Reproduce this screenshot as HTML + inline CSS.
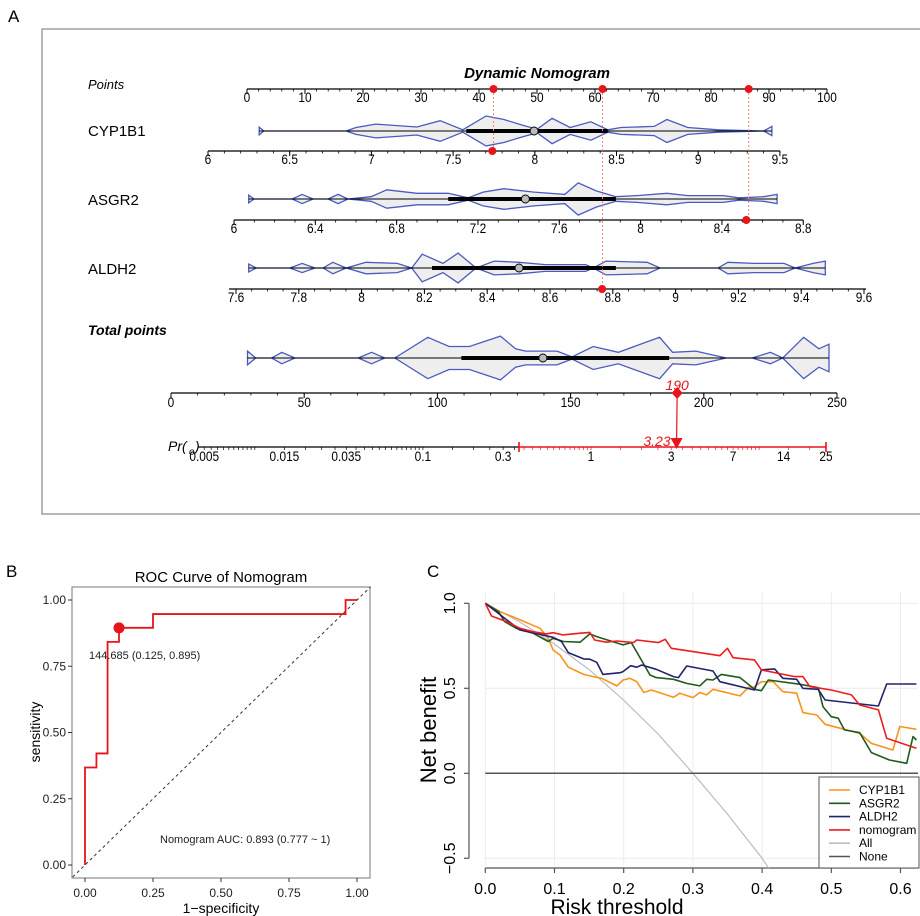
<!DOCTYPE html>
<html><head><meta charset="utf-8"><style>
html,body{margin:0;padding:0;background:#fff}
svg{display:block;font-family:"Liberation Sans",Arial,sans-serif}
</style></head><body>
<svg id="fig" width="920" height="916" viewBox="0 0 920 916" xmlns="http://www.w3.org/2000/svg">
<text x="8" y="22" font-size="17">A</text>
<text x="6" y="577" font-size="17">B</text>
<text x="427" y="577" font-size="17">C</text>
<rect x="42" y="29" width="882" height="485" fill="none" stroke="#888" stroke-width="1.2"/>
<g id="nomo"></g>
<g id="roc"></g>
<g id="dca"></g>
</svg>
<script>
// ---------- nomogram data ----------
const cypKnots=[[2.1,3.4],[2.9,0],[17.1,0],[18.8,3],[22.2,6],[29.3,3.5],[33.3,9],[37.2,1],[41.2,13],[44.3,10],[46.9,6],[50,1.5],[52.6,11],[55.7,3],[59.3,8],[62.2,1],[64.5,3],[70.2,4],[72.4,10],[76,3],[81.2,1],[89.1,0],[90.5,4]];
const asgKnots=[[0.3,3.4],[1.2,0],[7.8,0],[9.5,4],[11.4,0],[14,0],[15.7,4],[17.4,0],[21.4,2],[24.1,8],[29.3,5],[34.7,5],[38.1,1],[40.7,6],[44.3,9],[49.5,6],[54.8,4],[57.1,14],[60.2,7],[63.6,2],[67.2,3],[72.4,5],[76,3],[82.1,3],[84.8,1],[89.1,2],[91.4,4]];
const aldKnots=[[0.3,3.4],[1.6,0],[7.4,0],[9.5,4],[11.7,0],[13.1,0],[14.8,5],[17.1,0],[20.5,5],[25.9,4],[28.4,0],[30.2,12],[33.8,4],[36.4,13],[39.5,0],[42.6,6],[46.9,5],[51.4,3],[58.4,3],[59.7,0],[61.9,6],[69,5],[71.2,0],[81.2,0],[82.9,5],[87.4,4],[92.6,4],[94.5,0],[97.6,4],[99.7,6]];
const totKnots=[[28.7,6],[31.8,0],[37.8,0],[41.6,5],[46.5,0],[70.3,0],[75.3,5],[80.2,0],[84,0],[96.4,18],[104.4,10],[112,10],[123.7,19],[129.3,8],[133.1,6],[144.9,6],[150.5,1],[158.5,10],[167.9,5],[183.4,18],[188.3,5],[197,6],[208.4,0],[218.2,0],[225,5],[229.6,0],[237.5,18],[243.2,8],[247,12]];
const cypBox=[37.8,62.2,49.5], asgBox=[34.7,63.6,48], aldBox=[31.9,63.6,46.9], totBox=[109,187,139.6];
const pointsTicks=[0,10,20,30,40,50,60,70,80,90,100];
const cypTicks=[6,6.5,7,7.5,8,8.5,9,9.5];
const asgTicks=[6,6.4,6.8,7.2,7.6,8,8.4,8.8];
const aldTicks=[7.6,7.8,8,8.2,8.4,8.6,8.8,9,9.2,9.4,9.6];
const totTicks=[0,50,100,150,200,250];
const prTicks=[0.005,0.015,0.035,0.1,0.3,1,3,7,14,25];
const selPoints=[42.5,61.3,86.5];
const selValues={cyp:7.74,asg:8.52,ald:8.766};
const totalScore=190, predValue=3.23;

const NS="http://www.w3.org/2000/svg";
function mk(parent,tag,attrs){const e=document.createElementNS(NS,tag);for(const k in attrs)e.setAttribute(k,attrs[k]);parent.appendChild(e);return e;}
function txt(parent,x,y,s,attrs){const e=mk(parent,'text',Object.assign({x:x,y:y},attrs||{}));e.textContent=s;return e;}

const nomo=document.getElementById('nomo');
const ptsX=p=>247+p*5.8;
const cypX=v=>208+(v-6)*163.4;
const asgX=v=>234+(v-6)*203.3;
const aldX=v=>236+(v-7.6)*314;
const totX=p=>171+p*2.664;
const prX=v=>591+Math.log(v)*73;

function lbl(g,x,y,s,size){return txt(g,x,y,s,{'font-size':size,'text-anchor':'middle',transform:`translate(${x},${y}) scale(0.85,1) translate(${-x},${-y})`});}
function axis(name,x0,x1,y,ticks,scale,minorStep,minorFrom,minorTo,ly){
  const g=mk(nomo,'g',{});
  
  
  mk(g,'line',{x1:x0,x2:x1,y1:y,y2:y,stroke:'#000','stroke-width':1.2});
  const n=Math.round((minorTo-minorFrom)/minorStep);
  for(let i=0;i<=n;i++){const x=scale(minorFrom+i*minorStep);mk(g,'line',{x1:x,x2:x,y1:y,y2:y+2.5,stroke:'#000','stroke-width':0.8});}
  ticks.forEach(t=>{const x=scale(t);mk(g,'line',{x1:x,x2:x,y1:y,y2:y+5,stroke:'#000','stroke-width':1});
    lbl(g,x,ly,String(t),14);});
  return g;
}
txt(nomo,88,89,'Points',{'font-size':13,'font-style':'italic'});
txt(nomo,537,78,'Dynamic Nomogram',{'font-size':15,'font-weight':'bold','font-style':'italic','text-anchor':'middle'});
axis('points-axis',247,827,89,pointsTicks,ptsX,2,0,100,102);
txt(nomo,88,136,'CYP1B1',{'font-size':15});
axis('cyp1b1-axis',208,780,151,cypTicks,cypX,0.1,6,9.5,164);
txt(nomo,88,205,'ASGR2',{'font-size':15});
axis('asgr2-axis',234,803,220,asgTicks,asgX,0.1,6,8.8,233);
txt(nomo,88,274,'ALDH2',{'font-size':15});
axis('aldh2-axis',229,866,289,aldTicks,aldX,0.05,7.6,9.6,302);
txt(nomo,88,335,'Total points',{'font-size':14,'font-weight':'bold','font-style':'italic'});
axis('total-points-axis',171,837,393,totTicks,totX,10,0,250,407);

function violin(name,knots,box,scale,cy){
  const g=mk(nomo,'g',{});
  
  
  const s=1.15;
  const top=knots.map(k=>`${scale(k[0]).toFixed(1)},${(cy-k[1]*s).toFixed(1)}`);
  const bot=knots.slice().reverse().map(k=>`${scale(k[0]).toFixed(1)},${(cy+k[1]*s).toFixed(1)}`);
  mk(g,'polygon',{points:top.concat(bot).join(' '),fill:'#eeeeee',stroke:'#4a5bbf','stroke-width':1.3});
  mk(g,'line',{x1:scale(knots[0][0]),x2:scale(knots[knots.length-1][0]),y1:cy,y2:cy,stroke:'#000','stroke-width':1});
  mk(g,'line',{x1:scale(box[0]),x2:scale(box[1]),y1:cy,y2:cy,stroke:'#000','stroke-width':4});
  mk(g,'circle',{cx:scale(box[2]),cy:cy,r:4,fill:'#bbb',stroke:'#000','stroke-width':0.9});
}
violin('cyp1b1-violin',cypKnots,cypBox,ptsX,131);
violin('asgr2-violin',asgKnots,asgBox,ptsX,199);
violin('aldh2-violin',aldKnots,aldBox,ptsX,268);
violin('total-points-violin',totKnots,totBox,totX,358);

// selection markers
const selY=[151,289,220];
const selVX=[cypX(selValues.cyp),aldX(selValues.ald),asgX(selValues.asg)];
selPoints.forEach((p,i)=>{const x=ptsX(p);
  const l=mk(nomo,'line',{x1:x,x2:x,y1:89,y2:selY[i],stroke:'#f08080','stroke-width':1,'stroke-dasharray':'2,2'});
  
  const c=mk(nomo,'circle',{cx:x,cy:89,r:4,fill:'#e8141b'});
  
  const c2=mk(nomo,'circle',{cx:selVX[i],cy:selY[i],r:4,fill:'#e8141b'});
  
});

// Pr axis
const PY=447;
const pg=mk(nomo,'g',{});


txt(pg,168,451,'Pr(',{'font-size':14,'font-style':'italic'});
txt(pg,189,455,'o',{'font-size':10,'font-style':'italic'});
txt(pg,195,451,')',{'font-size':14,'font-style':'italic'});
const xr=519, xe=prX(25);
mk(pg,'line',{x1:198,x2:xr,y1:PY,y2:PY,stroke:'#000','stroke-width':1.2});
for(let d=-3;d<=1;d++){for(let k=1;k<10;k+=0.5){const v=k*Math.pow(10,d);if(v<0.005||v>25)continue;const x=prX(v);
  mk(pg,'line',{x1:x,x2:x,y1:PY,y2:PY+3,stroke:x>xr?'#e8141b':'#000','stroke-width':0.7});}}
prTicks.forEach(t=>{const x=prX(t);lbl(pg,x,461,String(t),14);});
mk(pg,'line',{x1:xr,x2:xe,y1:PY,y2:PY,stroke:'#e8141b','stroke-width':1.6});
mk(pg,'line',{x1:xr,x2:xr,y1:PY-5,y2:PY+5,stroke:'#e8141b','stroke-width':1.6});
mk(pg,'line',{x1:xe,x2:xe,y1:PY-5,y2:PY+5,stroke:'#e8141b','stroke-width':1.6});
const tx=totX(totalScore), px=prX(predValue);
const pl=mk(nomo,'line',{x1:tx,x2:px,y1:393,y2:440,stroke:'#e8141b','stroke-width':1.2});

const dm=mk(nomo,'polygon',{points:`${tx},387 ${tx+5.5},393 ${tx},399 ${tx-5.5},393`,fill:'#e8141b'});

const tri=mk(nomo,'polygon',{points:`${px-6},438 ${px+6},438 ${px},449`,fill:'#e8141b'});

txt(nomo,tx,390,String(totalScore),{'font-size':14,'font-style':'italic',fill:'#e8141b','text-anchor':'middle'});
txt(nomo,px-6,446,predValue.toFixed(2),{'font-size':14,'font-style':'italic',fill:'#e8141b','text-anchor':'end'});

// ---------- ROC ----------
const rocFpr=[0,0,0.042,0.042,0.083,0.083,0.125,0.125,0.25,0.25,0.958,0.958,1];
const rocTpr=[0,0.368,0.368,0.421,0.421,0.842,0.842,0.895,0.895,0.947,0.947,1,1];
const rocTicks=[0,0.25,0.5,0.75,1];
const rocTickLabels=['0.00','0.25','0.50','0.75','1.00'];
const cutFpr=0.125, cutTpr=0.895;
const roc=document.getElementById('roc');
const rx=v=>85+v*272, ry=v=>865-v*265;
txt(roc,221,582,'ROC Curve of Nomogram',{'font-size':15,'text-anchor':'middle'});
const rf=mk(roc,'rect',{x:72,y:587,width:298,height:291,fill:'none',stroke:'#777','stroke-width':1});

rocTicks.forEach((t,i)=>{
  mk(roc,'line',{x1:68,x2:72,y1:ry(t),y2:ry(t),stroke:'#333'});
  txt(roc,66,ry(t)+4,rocTickLabels[i],{'font-size':12,'text-anchor':'end','fill':'#222'});
  mk(roc,'line',{x1:rx(t),x2:rx(t),y1:878,y2:882,stroke:'#333'});
  txt(roc,rx(t),897,rocTickLabels[i],{'font-size':12,'text-anchor':'middle','fill':'#222'});
});
txt(roc,221,913,'1\u2212specificity',{'font-size':14,'text-anchor':'middle'});
txt(roc,40,732,'sensitivity',{'font-size':14,'text-anchor':'middle',transform:'rotate(-90 40 732)'});
const dg=mk(roc,'line',{x1:rx(-0.045),y1:ry(-0.045),x2:rx(1.05),y2:ry(1.05),stroke:'#333','stroke-width':1,'stroke-dasharray':'3,3'});

const rp=mk(roc,'polyline',{points:rocFpr.map((f,i)=>`${rx(f)},${ry(rocTpr[i])}`).join(' '),fill:'none',stroke:'#e8141b','stroke-width':1.8});

const cd=mk(roc,'circle',{cx:rx(cutFpr),cy:ry(cutTpr),r:5.5,fill:'#e8141b'});

txt(roc,89,659,'144.685 (0.125, 0.895)',{'font-size':11,'fill':'#222'});
txt(roc,160,843,'Nomogram AUC: 0.893 (0.777 ~ 1)',{'font-size':11,'fill':'#222'});

// ---------- DCA ----------
const cypT=[0,.021,.045,.079,.091,.098,.108,.120,.142,.156,.168,.190,.199,.209,.219,.229,.240,.272,.281,.300,.310,.320,.329,.368,.380,.387,.399,.416,.430,.450,.459,.479,.491,.541,.558,.589,.599,.623];
const cypNB=[1,.951,.912,.853,.794,.725,.696,.624,.582,.569,.559,.514,.549,.559,.539,.475,.490,.447,.471,.445,.475,.461,.494,.455,.506,.504,.539,.539,.480,.471,.357,.343,.288,.235,.176,.137,.275,.259];
const asgT=[0,.019,.028,.045,.069,.091,.098,.113,.137,.151,.161,.199,.211,.238,.247,.272,.291,.310,.320,.329,.341,.368,.389,.399,.409,.454,.481,.488,.500,.510,.519,.541,.558,.584,.609,.618,.623];
const asgNB=[1,.951,.892,.853,.824,.775,.794,.775,.771,.820,.804,.755,.769,.578,.563,.553,.529,.514,.553,.549,.582,.563,.494,.486,.549,.524,.504,.392,.333,.324,.255,.239,.122,.078,.059,.216,.196];
const aldT=[0,.050,.098,.110,.120,.142,.151,.161,.170,.195,.199,.210,.219,.226,.247,.272,.279,.291,.329,.339,.389,.399,.418,.430,.450,.459,.481,.491,.568,.580,.623];
const aldNB=[1,.843,.800,.775,.710,.673,.671,.653,.582,.592,.598,.633,.624,.637,.612,.569,.563,.631,.602,.539,.490,.608,.614,.559,.553,.500,.494,.431,.396,.525,.525];
const nomT=[0,.009,.031,.050,.069,.088,.098,.112,.137,.151,.158,.175,.190,.214,.219,.250,.260,.269,.339,.350,.358,.389,.399,.447,.459,.469,.500,.529,.541,.568,.580,.623];
const nomNB=[1,.925,.892,.853,.833,.820,.827,.814,.824,.829,.784,.771,.778,.769,.784,.769,.788,.735,.692,.735,.680,.667,.608,.569,.569,.510,.490,.461,.402,.373,.206,.147];
const allT=[0,.05,.1,.15,.2,.25,.3,.35,.4,.42];
const allNB=[1,.89,.76,.61,.43,.23,0,-.24,-.5,-.62];
const dcaXTicks=[0,0.1,0.2,0.3,0.4,0.5,0.6];
const dcaYTicks=[-0.5,0,0.5,1];
const dcaYLabels=['\u22120.5','0.0','0.5','1.0'];
const dca=document.getElementById('dca');
const dx=t=>485.3+t*692, dy=v=>773.3-v*170;
mk(dca,'defs',{}).innerHTML='<clipPath id="dclip"><rect x="484" y="590" width="435" height="278"/></clipPath>';
const grid=mk(dca,'g',{});

dcaXTicks.forEach(t=>mk(grid,'line',{x1:dx(t),x2:dx(t),y1:592,y2:866,stroke:'#ececec','stroke-width':1}));
dcaYTicks.forEach(v=>mk(grid,'line',{x1:485,x2:918,y1:dy(v),y2:dy(v),stroke:'#ececec','stroke-width':1}));
mk(dca,'line',{x1:469,x2:469,y1:dy(1),y2:dy(-0.5),stroke:'#555','stroke-width':1.2});
dcaYTicks.forEach((v,i)=>{mk(dca,'line',{x1:464,x2:469,y1:dy(v),y2:dy(v),stroke:'#555','stroke-width':1.2});
  txt(dca,455,dy(v),dcaYLabels[i],{'font-size':16,'text-anchor':'middle',transform:`rotate(-90 455 ${dy(v)})`});});
mk(dca,'line',{x1:dx(0),x2:918,y1:868,y2:868,stroke:'#555','stroke-width':1.2});
dcaXTicks.forEach(t=>{mk(dca,'line',{x1:dx(t),x2:dx(t),y1:868,y2:873,stroke:'#555','stroke-width':1.2});
  txt(dca,dx(t),894,t.toFixed(1),{'font-size':16,'text-anchor':'middle'});});
txt(dca,617,914,'Risk threshold',{'font-size':21,'text-anchor':'middle'});
txt(dca,436,730,'Net benefit',{'font-size':22,'text-anchor':'middle',transform:'rotate(-90 436 730)'});
const lines=mk(dca,'g',{'clip-path':'url(#dclip)'});
function series(name,T,V,color,w){const p=mk(lines,'polyline',{points:T.map((t,i)=>`${dx(t).toFixed(1)},${dy(V[i]).toFixed(1)}`).join(' '),fill:'none',stroke:color,'stroke-width':w,'stroke-linejoin':'round'});
  }
series('all-line',allT,allNB,'#bdbdbd',1.2);
const none=mk(lines,'line',{x1:dx(0),x2:918,y1:dy(0),y2:dy(0),stroke:'#555','stroke-width':1.5});

series('cyp1b1-line',cypT,cypNB,'#f7941d',1.6);
series('asgr2-line',asgT,asgNB,'#1e5c1e',1.6);
series('aldh2-line',aldT,aldNB,'#22226e',1.6);
series('nomogram-line',nomT,nomNB,'#ee1c1c',1.6);
const leg=mk(dca,'g',{});

mk(leg,'rect',{x:819,y:777,width:100,height:91,fill:'#fff',stroke:'#555','stroke-width':1});
const legNames=['CYP1B1','ASGR2','ALDH2','nomogram','All','None'];
const legColors=['#f7941d','#1e5c1e','#22226e','#ee1c1c','#bdbdbd','#555'];
legNames.forEach((n,i)=>{const y=790+i*13.3;
  const e=mk(leg,'g',{});
  
  
  mk(e,'line',{x1:829,x2:850,y1:y,y2:y,stroke:legColors[i],'stroke-width':1.6});
  txt(e,859,y+4,n,{'font-size':12});});
</script>
</body></html>
